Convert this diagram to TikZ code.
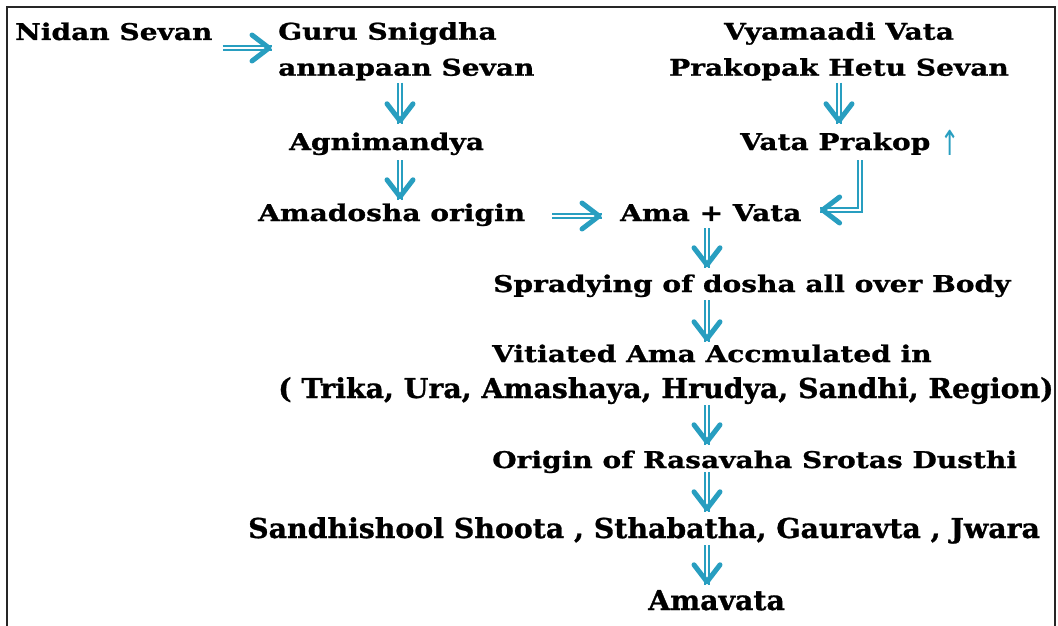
\documentclass[tikz,border=0pt]{standalone}
\usepackage{fontspec}
\setmainfont{DejaVu Serif}
\newfontfamily\stepfont[FakeStretch=1.22, FakeBold=1]{DejaVu Serif}
\newfontfamily\narrowfont[FakeStretch=1.15, FakeBold=1]{DejaVu Serif Condensed}
\newfontfamily\symbolfont{DejaVu Sans}
\usetikzlibrary{calc}
\usetikzlibrary{decorations.markings}
\definecolor{flowblue}{RGB}{40,158,192}
\tikzset{
  % open chevron drawn at the end of a path
  chevron/.style={
    postaction={
      decorate,
      decoration={
        markings,
        mark=at position 1 with {
          \draw[flowblue, line width=5pt, line cap=round, line join=round]
          (-20pt,13pt) -- (-3pt,0pt) -- (-20pt,-13pt);
        }
      }
    }
  }
}
\tikzset {
  % double shaft with a chevron head
  flow/.style = {
    draw = flowblue,
    double = white,
    double distance = 2pt,
    line width = 1.8pt,
    chevron
  },
  frame/.style = {
    draw = black!85,
    line width = 2pt
  }
}
\tikzset {
  step text/.style = {
    anchor = base west,
    inner sep = 0,
    font = \stepfont\bfseries\fontsize{23}{36}\selectfont,
    text height = 18pt,
    text depth = 6pt
  },
  % two line block
  block text/.style = {
    inner sep = 0,
    font = \stepfont\bfseries\fontsize{23}{36}\selectfont
  },
  narrow text/.style = {
    step text,
    font = \narrowfont\bfseries\fontsize{27.4}{36}\selectfont
  }
}

\begin{document}
\begin{tikzpicture}[x=1pt, y=-1pt]
    \useasboundingbox (0,0) rectangle (1058,626);
    \draw[frame] (7,640) -- (7,7) -- (1055,7) -- (1055,640);

    \coordinate (leftaxis) at (400,0);
    \coordinate (rightaxis) at (839,0);
    \coordinate (axis) at (707,0);

    \node[step text] (nidan) at (15,40) {Nidan Sevan};
    \node[block text, anchor=north west, align=left] (guru) at (278,22) {Guru Snigdha\\annapaan Sevan};
    \node[step text] (agni) at (289,150) {Agnimandya};
    \node[step text] (amadosha) at (258,221) {Amadosha origin};
    \node[step text] (amavata) at (620,221) {Ama + Vata};
    \node[block text, anchor=north, align=center] (vyama) at (839,22) {Vyamaadi Vata\\Prakopak Hetu Sevan};
    \node[step text] (vatap) at (740,150) {Vata Prakop {\symbolfont\mdseries\color{flowblue}\raisebox{-5pt}{\scalebox{1}[1.5]{↑}}}};
    \node[step text] (spread) at (493,292) {Spradying of dosha all over Body};
    \node[step text] (vitiated) at (492,362) {Vitiated Ama Accmulated in};
    \node[narrow text] (sites) at (278,398) {( Trika, Ura, Amashaya, Hrudya, Sandhi, Region)};
    \node[step text] (rasavaha) at (492,468) {Origin of Rasavaha Srotas Dusthi};
    \node[narrow text] (symptoms) at (248,538) {Sandhishool Shoota , Sthabatha, Gauravta , Jwara};
    \node[narrow text] (amavatafinal) at (648,610) {Amavata};

    \draw[flow] ($(nidan.base east)+(10,8)$) -- ($(nidan.base east -| guru.west)+(-6,8)$);
    \draw[flow] ($(guru.south -| leftaxis)+(0,2)$) -- ($(agni.north -| leftaxis)+(0,-8)$);
    \draw[flow] ($(agni.south -| leftaxis)+(0,4)$) -- ($(amadosha.north -| leftaxis)+(0,-3)$);
    \draw[flow] ($(amadosha.base east)+(27,-5)$) -- ($(amavata.base west)+(-18,-5)$);
    \draw[flow] ($(vyama.south -| rightaxis)+(0,2)$) -- ($(vatap.north -| rightaxis)+(0,-8)$);
    \draw[flow] ($(vatap.base)+(10,10)$) |- ($(amavata.base east)+(18,-11)$);

    \draw[flow] ($(amavata.south -| axis)+(0,1)$) -- ($(spread.north -| axis)+(0,-6)$);
    \draw[flow] ($(spread.south -| axis)+(0,2)$) -- ($(vitiated.north -| axis)+(0,-2)$);
    \draw[flow] ($(sites.south -| axis)+(0,1)$) -- ($(rasavaha.north -| axis)+(0,-5)$);
    \draw[flow] ($(rasavaha.south -| axis)+(0,-2)$) -- ($(symptoms.north -| axis)+(0,-8)$);
    \draw[flow] ($(symptoms.south -| axis)+(0,1)$) -- ($(amavatafinal.north -| axis)+(0,-7)$);
\end{tikzpicture}
\end{document}
